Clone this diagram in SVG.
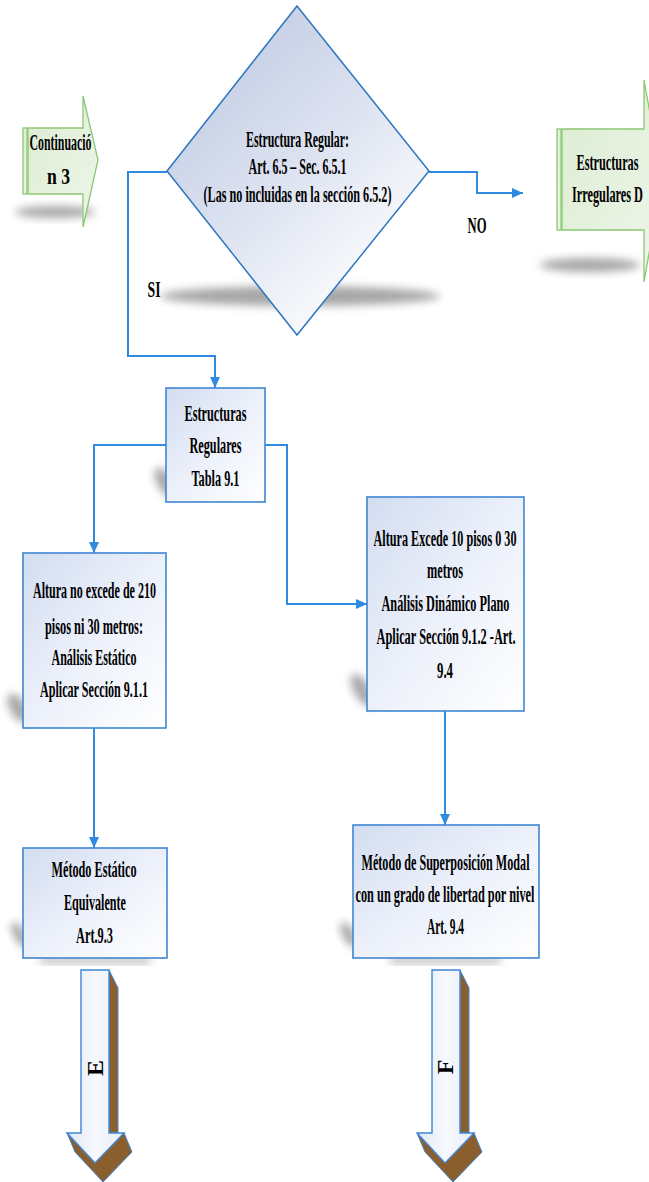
<svg xmlns="http://www.w3.org/2000/svg" width="649" height="1182" viewBox="0 0 649 1182">
<defs>
<linearGradient id="gBox" x1="0" y1="0" x2="1" y2="1">
<stop offset="0" stop-color="#d3ddf1"/>
<stop offset="0.55" stop-color="#eef2fb"/>
<stop offset="1" stop-color="#ffffff"/>
</linearGradient>
<linearGradient id="gDia" x1="0.2" y1="0.1" x2="0.8" y2="0.9">
<stop offset="0" stop-color="#c3cde4"/>
<stop offset="0.5" stop-color="#dde3f1"/>
<stop offset="1" stop-color="#ffffff"/>
</linearGradient>
<linearGradient id="gArr" x1="0" y1="0" x2="1" y2="0">
<stop offset="0" stop-color="#dfe7f6"/>
<stop offset="0.5" stop-color="#f7f9fe"/>
<stop offset="1" stop-color="#e6ecf8"/>
</linearGradient>
<linearGradient id="gGreen" x1="0" y1="0" x2="1" y2="1">
<stop offset="0" stop-color="#dcecd2"/>
<stop offset="1" stop-color="#eef6ea"/>
</linearGradient>
<filter id="blur" x="-50%" y="-50%" width="200%" height="200%">
<feGaussianBlur stdDeviation="4"/>
</filter>
<marker id="ah" markerUnits="userSpaceOnUse" markerWidth="12" markerHeight="10" refX="11" refY="5" orient="auto">
<path d="M0,0 L11,5 L0,10 z" fill="#2f8ae0"/>
</marker>
<style>
.t{font-family:"Liberation Serif","Times New Roman",serif;font-weight:bold;font-size:24px;fill:#000;text-anchor:middle}
.box{fill:url(#gBox);stroke:#3f86d4;stroke-width:1.6}
.sh{fill:#8a8a8a;opacity:0.75;filter:url(#blur)}
.con{fill:none;stroke:#2f8ae0;stroke-width:2}
.grn{fill:url(#gGreen);stroke:#8cc873;stroke-width:1.3}
.front{fill:url(#gArr);stroke:#3f86d4;stroke-width:1.4}
.brown{fill:#8b5e2e;stroke:#3f86d4;stroke-width:1}
</style>
</defs>
<rect width="649" height="1182" fill="#ffffff"/>

<g id="shadows">
<ellipse class="sh" cx="55" cy="212" rx="40" ry="6"/>
<ellipse class="sh" cx="590" cy="265" rx="50" ry="7"/>
<ellipse class="sh" cx="300" cy="296" rx="140" ry="10"/>
<ellipse class="sh" cx="165" cy="482" rx="8" ry="16" transform="rotate(-30 165 482)"/>
<ellipse class="sh" cx="18" cy="708" rx="8" ry="16" transform="rotate(-30 18 708)"/>
<ellipse class="sh" cx="362" cy="690" rx="8" ry="18" transform="rotate(-30 362 690)"/>
<ellipse class="sh" cx="20" cy="935" rx="6" ry="14" transform="rotate(-30 20 935)"/>
<ellipse class="sh" cx="349" cy="935" rx="6" ry="14" transform="rotate(-30 349 935)"/>
<rect class="sh" x="40" y="958" width="110" height="5" opacity="0.25"/>
<rect class="sh" x="390" y="958" width="110" height="5" opacity="0.25"/>
</g>

<g id="connectors">
<path class="con" d="M167,172 H128 V356 H215 V388" marker-end="url(#ah)"/>
<path class="con" d="M429,172 H477 V193 H523" marker-end="url(#ah)"/>
<path class="con" d="M166,445 H94 V553" marker-end="url(#ah)"/>
<path class="con" d="M265,445 H287 V604 H367" marker-end="url(#ah)"/>
<path class="con" d="M94,728 V848" marker-end="url(#ah)" stroke-width="1.4"/>
<path class="con" d="M445,711 V825" marker-end="url(#ah)" stroke-width="1.4"/>
<text class="t" x="154" y="297" font-size="26" textLength="13" lengthAdjust="spacingAndGlyphs">SI</text>
<text class="t" x="477" y="233" font-size="26" textLength="19" lengthAdjust="spacingAndGlyphs">NO</text>
</g>

<g id="continuacion3">
<rect class="grn" x="23" y="128" width="4" height="66"/>
<polygon class="grn" points="28,128 83,128 83,96 98,160 83,227 83,194 28,194"/>
<text class="t" x="60.5" y="150" textLength="62" lengthAdjust="spacingAndGlyphs">Continuació</text>
<text class="t" x="58.5" y="184" textLength="23" lengthAdjust="spacingAndGlyphs">n 3</text>
</g>

<g id="decision">
<polygon points="297,6 429,171 297,335 167,171" fill="url(#gDia)" stroke="#2e75c0" stroke-width="1.5"/>
<text class="t" x="297.5" y="147" font-size="23" textLength="103" lengthAdjust="spacingAndGlyphs">Estructura Regular:</text>
<text class="t" x="297.5" y="174" font-size="23" textLength="98" lengthAdjust="spacingAndGlyphs">Art. 6.5 – Sec. 6.5.1</text>
<text class="t" x="297.5" y="202" font-size="23" textLength="188" lengthAdjust="spacingAndGlyphs">(Las no incluidas en la sección 6.5.2)</text>
</g>

<g id="irregularesD">
<rect class="grn" x="557" y="129" width="4" height="101"/>
<polygon class="grn" points="562,129 644,129 644,80 662,180 644,282 644,230 562,230"/>
<text class="t" x="607.5" y="170" textLength="62" lengthAdjust="spacingAndGlyphs">Estructuras</text>
<text class="t" x="607.5" y="202" textLength="71" lengthAdjust="spacingAndGlyphs">Irregulares D</text>
</g>

<g id="regulares">
<rect class="box" x="166" y="388" width="99" height="114"/>
<text class="t" x="215.5" y="421" textLength="62" lengthAdjust="spacingAndGlyphs">Estructuras</text>
<text class="t" x="215.5" y="453" textLength="52" lengthAdjust="spacingAndGlyphs">Regulares</text>
<text class="t" x="215.5" y="486" textLength="48" lengthAdjust="spacingAndGlyphs">Tabla 9.1</text>
</g>

<g id="estatico">
<rect class="box" x="23" y="553" width="143" height="175"/>
<text class="t" x="94.5" y="598" textLength="123" lengthAdjust="spacingAndGlyphs">Altura no excede de 210</text>
<text class="t" x="94" y="634" textLength="98" lengthAdjust="spacingAndGlyphs">pisos ni 30 metros:</text>
<text class="t" x="94" y="665" textLength="85" lengthAdjust="spacingAndGlyphs">Análisis Estático</text>
<text class="t" x="94" y="697" textLength="108" lengthAdjust="spacingAndGlyphs">Aplicar Sección 9.1.1</text>
</g>

<g id="dinamico">
<rect class="box" x="367" y="497" width="157" height="214"/>
<text class="t" x="445" y="546" textLength="143" lengthAdjust="spacingAndGlyphs">Altura Excede 10 pisos 0 30</text>
<text class="t" x="445" y="578" textLength="36" lengthAdjust="spacingAndGlyphs">metros</text>
<text class="t" x="445.5" y="611" textLength="128" lengthAdjust="spacingAndGlyphs">Análisis Dinámico Plano</text>
<text class="t" x="446" y="644" textLength="139" lengthAdjust="spacingAndGlyphs">Aplicar Sección 9.1.2 -Art.</text>
<text class="t" x="445" y="678" textLength="16" lengthAdjust="spacingAndGlyphs">9.4</text>
</g>

<g id="metodoEstatico">
<rect class="box" x="23" y="848" width="144" height="110"/>
<text class="t" x="94" y="877" textLength="85" lengthAdjust="spacingAndGlyphs">Método Estático</text>
<text class="t" x="95" y="910" textLength="62" lengthAdjust="spacingAndGlyphs">Equivalente</text>
<text class="t" x="94.5" y="943" textLength="37" lengthAdjust="spacingAndGlyphs">Art.9.3</text>
</g>

<g id="metodoModal">
<rect class="box" x="353" y="825" width="186" height="133"/>
<text class="t" x="445.5" y="870" textLength="168" lengthAdjust="spacingAndGlyphs">Método de Superposición Modal</text>
<text class="t" x="445" y="902" textLength="179" lengthAdjust="spacingAndGlyphs">con un grado de libertad por nivel</text>
<text class="t" x="445.5" y="934" textLength="37" lengthAdjust="spacingAndGlyphs">Art. 9.4</text>
</g>

<g id="arrowE">
<polygon class="brown" points="109,970 118,988 118,1133 109,1133"/>
<polygon class="brown" points="67,1133 75,1152 103,1182 132,1152 124,1133 95,1163"/>
<polygon class="front" points="81,970 109,970 109,1133 124,1133 95,1163 67,1133 81,1133"/>
<text class="t" x="95" y="1068" font-size="14" dominant-baseline="central" transform="rotate(-90 95 1068)">E</text>
</g>

<g id="arrowF">
<polygon class="brown" points="460,970 469,988 469,1133 460,1133"/>
<polygon class="brown" points="417,1133 425,1152 453,1182 482,1152 474,1133 445,1163"/>
<polygon class="front" points="432,970 460,970 460,1133 474,1133 445,1163 417,1133 432,1133"/>
<text class="t" x="445" y="1067" font-size="14" dominant-baseline="central" transform="rotate(-90 445 1067)">F</text>
</g>
</svg>
